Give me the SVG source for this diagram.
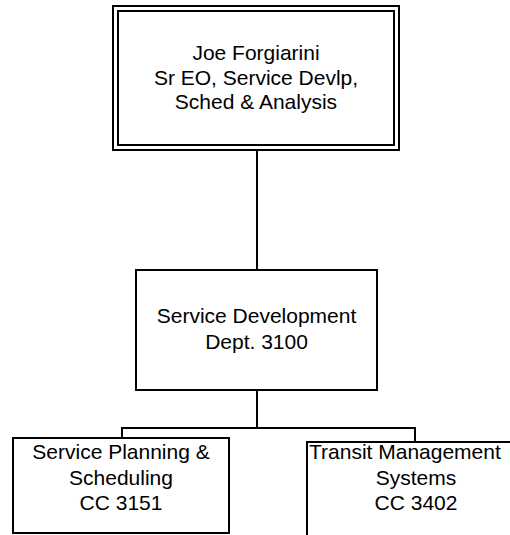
<svg xmlns="http://www.w3.org/2000/svg" width="510" height="535" viewBox="0 0 510 535">
<style>
.box{fill:#fff;stroke:#000;stroke-width:2}
.t{font-family:"Liberation Sans",Arial,sans-serif;font-size:21px;fill:#000;text-anchor:middle}
.c{stroke:#000;stroke-width:2;fill:none}
</style>
<rect width="510" height="535" fill="#fff"/>
<g id="connectors">
<line class="c" x1="257" y1="150" x2="257" y2="270"/>
<line class="c" x1="257" y1="390" x2="257" y2="428"/>
<polyline class="c" points="122,438 122,428 415,428 415,442"/>
</g>
<g id="node-joe">
<rect class="box" x="113" y="6" width="286" height="144"/>
<rect class="box" x="118" y="11" width="276" height="134"/>
<text class="t" x="256" y="60">Joe Forgiarini</text>
<text class="t" x="256" y="84.5">Sr EO, Service Devlp,</text>
<text class="t" x="256" y="109">Sched &amp; Analysis</text>
</g>
<g id="node-dept">
<rect class="box" x="136" y="270" width="241" height="120"/>
<text class="t" x="256.5" y="323">Service Development</text>
<text class="t" x="256.5" y="349">Dept. 3100</text>
</g>
<g id="node-planning">
<rect class="box" x="13" y="438" width="216" height="95"/>
<text class="t" x="121" y="459">Service Planning &amp;</text>
<text class="t" x="121" y="484.5">Scheduling</text>
<text class="t" x="121" y="510">CC 3151</text>
</g>
<g id="node-tms">
<rect class="box" x="307" y="442" width="216" height="100"/>
<text class="t" x="309" y="459" style="text-anchor:start">Transit Management</text>
<text class="t" x="416" y="484.5">Systems</text>
<text class="t" x="416" y="510">CC 3402</text>
</g>
</svg>
